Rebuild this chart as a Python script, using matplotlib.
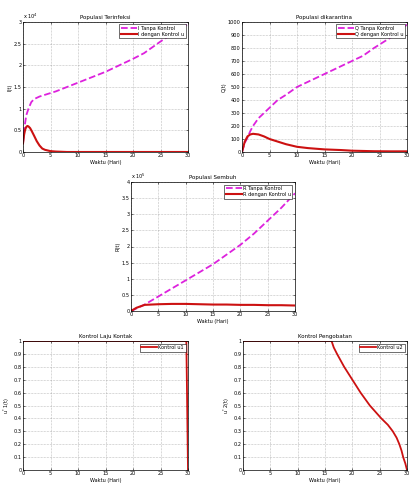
import numpy as np
import matplotlib
matplotlib.use("Agg")
from matplotlib import pyplot as plt

# data
t_I = [0, 0.3, 0.6, 1, 1.5, 2, 3, 4, 6, 8, 10, 12, 15, 18, 20, 22, 25, 28, 30]
I_no = [0.2, 0.6, 0.85, 1.0, 1.15, 1.22, 1.28, 1.32, 1.4, 1.5, 1.6, 1.7, 1.85, 2.03, 2.15, 2.28, 2.55, 2.8, 2.95]
t_Ic = [0, 0.2, 0.4, 0.6, 0.8, 1, 1.3, 1.6, 2, 2.5, 3, 3.5, 4, 5, 6, 8, 30]
I_ctrl = [0.2, 0.4, 0.52, 0.58, 0.6, 0.59, 0.55, 0.48, 0.38, 0.25, 0.15, 0.08, 0.05, 0.02, 0.01, 0.0, 0.0]

t_Q = [0, 0.5, 1, 1.5, 2, 3, 4, 5, 6.5, 8, 10, 12, 15, 18, 20, 22, 24, 27, 30]
Q_no = [0, 70, 110, 160, 200, 260, 300, 340, 400, 440, 500, 540, 600, 660, 700, 740, 800, 880, 980]
Q_ctrl = [0, 80, 120, 135, 140, 135, 120, 100, 80, 60, 40, 30, 20, 15, 10, 8, 6, 5, 5]

t_R = [0, 1, 2.5, 5, 7.5, 10, 12.5, 15, 17.5, 20, 22.5, 25, 27.5, 30]
R_no = [0, 0.08, 0.2, 0.45, 0.7, 0.95, 1.2, 1.45, 1.75, 2.05, 2.4, 2.8, 3.2, 3.65]
R_ctrl = [0, 0.1, 0.19, 0.21, 0.22, 0.22, 0.21, 0.2, 0.2, 0.19, 0.19, 0.18, 0.18, 0.17]

t_u1 = [0, 29.7, 29.85, 30]
u1 = [1, 1, 0.5, 0]

t_u2 = [0, 16.2, 16.6, 17.2, 18.5, 20, 21.5, 23.2, 25.3, 26.5, 27.4, 28.1, 28.6, 29.0, 29.3, 29.7, 30]
u2 = [1, 1, 0.95, 0.9, 0.8, 0.7, 0.6, 0.5, 0.4, 0.35, 0.3, 0.25, 0.2, 0.15, 0.1, 0.05, 0]

W, H = 413, 487
fig = plt.figure(figsize=(4.13, 4.87), dpi=100)
plt.rcParams["font.family"] = "DejaVu Sans"
fs = 3.6

def box(l, r, top, bot):
    return [l / W, 1 - bot / H, (r - l) / W, (bot - top) / H]

def style(ax, title, ylabel, ylim, yticks):
    ax.set_xlim(0, 30)
    ax.set_ylim(*ylim)
    ax.set_xticks([0, 5, 10, 15, 20, 25, 30])
    ax.set_yticks(yticks)
    ax.tick_params(labelsize=fs, length=1.5, width=0.4, pad=1, direction="in",
                   top=True, right=True)
    ax.grid(True, linestyle=":", color="#888888", linewidth=0.4)
    ax.set_title(title, fontsize=fs + 0.4, pad=2)
    ax.set_xlabel("Waktu (Hari)", fontsize=fs, labelpad=1)
    ax.set_ylabel(ylabel, fontsize=fs, labelpad=1)
    for s in ax.spines.values():
        s.set_linewidth(0.5)

def legend(ax):
    ax.legend(loc="upper right", fontsize=fs, handlelength=3.2, borderpad=0.3,
              labelspacing=0.2, handletextpad=0.2, fancybox=False,
              edgecolor="black", framealpha=1).get_frame().set_linewidth(0.4)

mag = "#dd22dd"
red = "#cc1111"

ax1 = fig.add_axes(box(23, 188, 22, 152))
ax1.plot(t_I, I_no, color=mag, linestyle="--", lw=1.3, label="I Tanpa Kontrol")
ax1.plot(t_Ic, I_ctrl, color=red, lw=1.5, label="I dengan Kontrol u")
style(ax1, "Populasi Terinfeksi", "I(t)", (0, 3), [0, 0.5, 1, 1.5, 2, 2.5, 3])
ax1.set_yticklabels(["0", "0.5", "1", "1.5", "2", "2.5", "3"])
ax1.text(0, 1.01, r"x 10$^4$", transform=ax1.transAxes, fontsize=fs, va="bottom")
legend(ax1)

ax2 = fig.add_axes(box(242, 407, 22, 152))
ax2.plot(t_Q, Q_no, color=mag, linestyle="--", lw=1.3, label="Q Tanpa Kontrol")
ax2.plot(t_Q, Q_ctrl, color=red, lw=1.5, label="Q dengan Kontrol u")
style(ax2, "Populasi dikarantina", "Q(t)", (0, 1000), list(range(0, 1001, 100)))
legend(ax2)

ax3 = fig.add_axes(box(131, 295, 182, 311))
ax3.plot(t_R, R_no, color=mag, linestyle="--", lw=1.3, label="R Tanpa Kontrol")
ax3.plot(t_R, R_ctrl, color=red, lw=1.5, label="R dengan Kontrol u")
style(ax3, "Populasi Sembuh", "R(t)", (0, 4), [0, 0.5, 1, 1.5, 2, 2.5, 3, 3.5, 4])
ax3.set_yticklabels(["0", "0.5", "1", "1.5", "2", "2.5", "3", "3.5", "4"])
ax3.text(0, 1.01, r"x 10$^5$", transform=ax3.transAxes, fontsize=fs, va="bottom")
legend(ax3)

ax4 = fig.add_axes(box(23, 188, 341, 470))
ax4.plot(t_u1, u1, color=red, lw=1.3, label="Kontrol u1")
style(ax4, "Kontrol Laju Kontak", r"u$^*$1(t)", (0, 1), [i / 10 for i in range(11)])
ax4.set_yticklabels(["0"] + [f"{i/10:g}" for i in range(1, 10)] + ["1"])
legend(ax4)

ax5 = fig.add_axes(box(243, 407, 341, 470))
ax5.plot(t_u2, u2, color=red, lw=1.3, label="Kontrol u2")
style(ax5, "Kontrol Pengobatan", r"u$^*$2(t)", (0, 1), [i / 10 for i in range(11)])
ax5.set_yticklabels(["0"] + [f"{i/10:g}" for i in range(1, 10)] + ["1"])
legend(ax5)

fig.savefig("out.png", dpi=100)
